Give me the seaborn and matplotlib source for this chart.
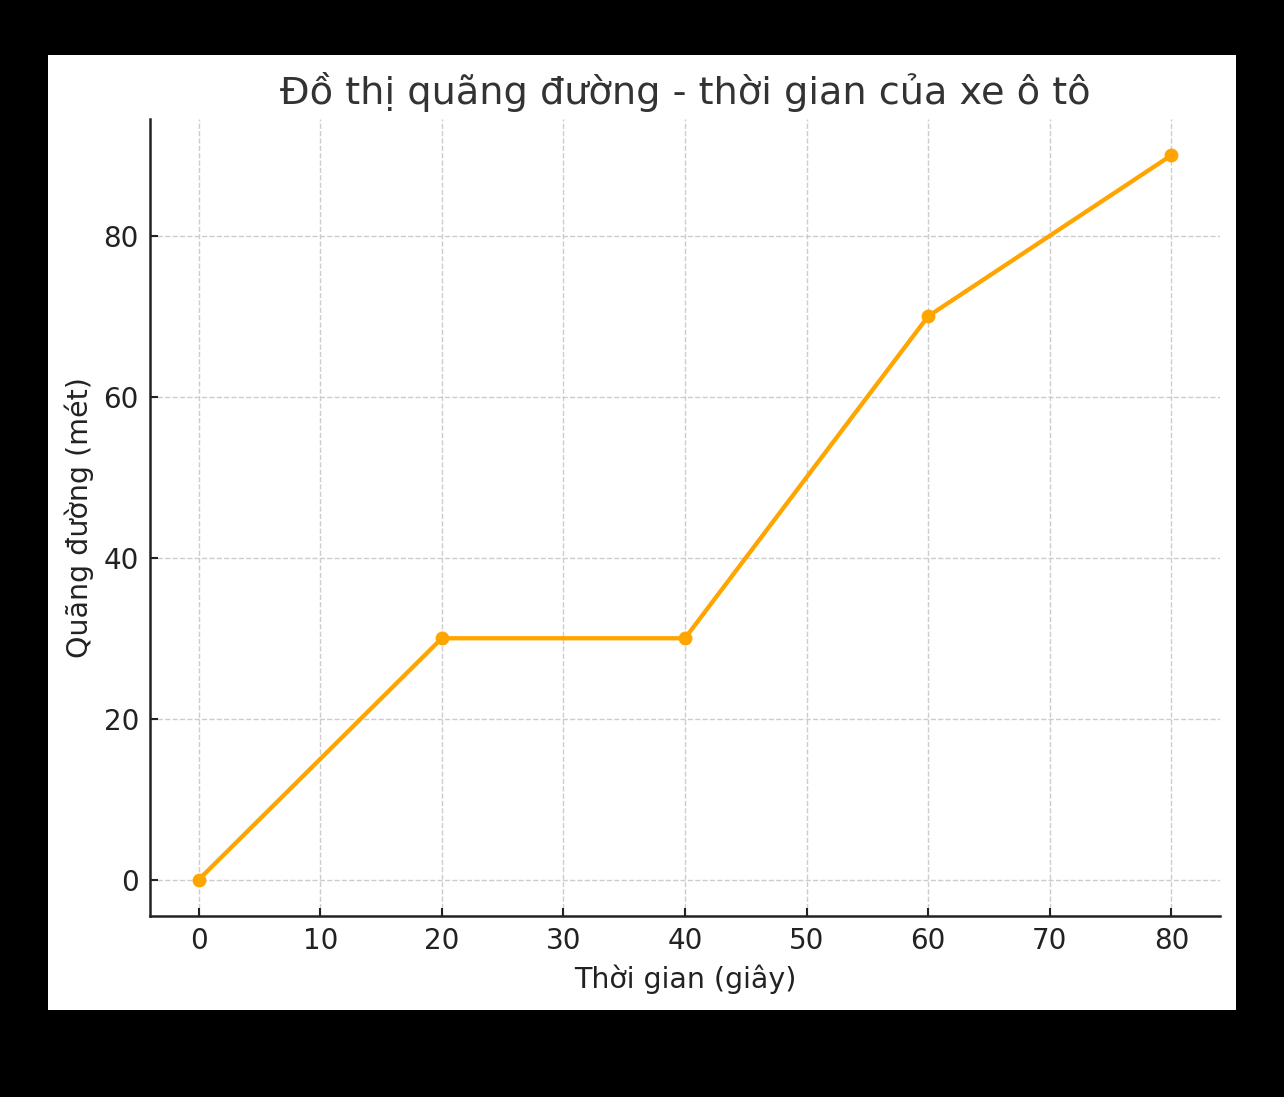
import matplotlib
matplotlib.use('Agg')
import matplotlib.pyplot as plt
import seaborn as sns
import pandas as pd
from matplotlib.patches import Rectangle

# Dữ liệu quãng đường - thời gian
thoi_gian = [0, 20, 40, 60, 80]
quang_duong = [0, 30, 30, 70, 90]

df = pd.DataFrame({'t': thoi_gian, 's': quang_duong})

sns.set_style('ticks')
plt.rcParams['font.family'] = ['DejaVu Sans']

fig = plt.figure(figsize=(12.84, 10.97), dpi=100, facecolor='black')
# nền trắng bên trong khung đen
fig.patches.append(Rectangle((48 / 1284, 1 - 1010 / 1097), 1188 / 1284, 955 / 1097,
                             transform=fig.transFigure, facecolor='white',
                             edgecolor='none', zorder=-10))

ax = fig.add_axes([150 / 1284, 1 - 916 / 1097, 1070 / 1284, 797 / 1097])
ax.set_facecolor('white')

sns.lineplot(data=df, x='t', y='s', ax=ax, color='orange', linewidth=3.1,
             marker='o', markersize=10, markeredgewidth=0)

ax.set_title('Đồ thị quãng đường - thời gian của xe ô tô', fontsize=27.5,
             color='#333333', pad=11)
ax.set_xlabel('Thời gian (giây)', fontsize=20.5, color='#222222', labelpad=7)
ax.set_ylabel('Quãng đường (mét)', fontsize=20.5, color='#222222', labelpad=7)

ax.set_xticks(range(0, 81, 10))
ax.set_yticks(range(0, 81, 20))
ax.tick_params(direction='in', labelsize=20, colors='#222222', length=6,
               width=1.5, pad=8)
ax.grid(True, linestyle='--', color='#cccccc', linewidth=1)
ax.set_axisbelow(True)

sns.despine(ax=ax)
for s in ['left', 'bottom']:
    ax.spines[s].set_linewidth(1.8)
    ax.spines[s].set_color('#222222')

fig.savefig('out.png', dpi=100, facecolor='black')
